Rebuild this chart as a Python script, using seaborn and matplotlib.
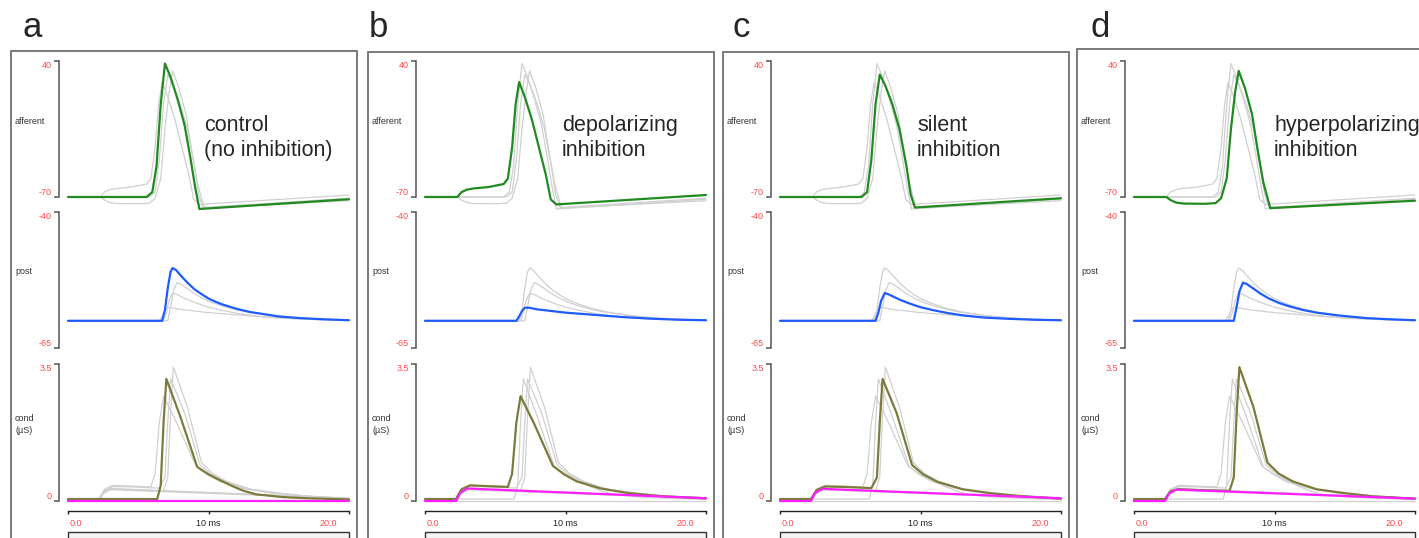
import pandas as pd
import matplotlib.pyplot as plt
import matplotlib.patches as mpatches
import seaborn as sns

# --- data (time in ms) ---
conditions = ['control', 'depolarizing', 'silent', 'hyperpolarizing']
panel_letters = ['a', 'b', 'c', 'd']
panel_notes = [('control', '(no inhibition)'), ('depolarizing', 'inhibition'),
               ('silent', 'inhibition'), ('hyperpolarizing', 'inhibition')]

# afferent membrane potential (mV)
aff_ctrl_t = [0, 5.6, 6.0, 6.3, 6.6, 6.9, 7.3, 7.8, 8.3, 8.7, 9.05, 9.35, 20]
aff_ctrl_v = [-70, -70, -66, -45, 5, 38, 27, 9, -12, -37.6, -62, -79.7, -71.8]
aff_depol_t = [0, 2.3, 2.6, 3.0, 3.5, 4.5, 5.6, 5.9, 6.2, 6.45, 6.7, 7.1, 7.6, 8.2, 8.6, 8.95, 9.35, 20]
aff_depol_v = [-70, -70, -66, -64, -63, -62, -59.5, -55, -30, 5, 23, 11, -7, -34, -52, -72, -76, -68.4]
aff_sil_t = [0, 5.8, 6.2, 6.5, 6.8, 7.1, 7.5, 8.0, 8.5, 9.0, 9.3, 9.6, 20]
aff_sil_v = [-70, -70, -66, -40, 5, 29, 20, 5, -15, -45, -68, -78.5, -71]
aff_hyp_t = [0, 2.3, 2.6, 3.0, 3.5, 5.0, 5.8, 6.2, 6.6, 6.9, 7.2, 7.45, 7.9, 8.4, 8.8, 9.2, 9.7, 20]
aff_hyp_v = [-70, -70, -72.5, -74.5, -75.3, -75.5, -75, -71, -55, -15, 15, 32, 18, -3, -32, -58, -79, -73]

# postsynaptic potential (mV)
post_ctrl_t = [0, 6.7, 6.9, 7.1, 7.3, 7.45, 7.7, 8.0, 8.5, 9.0, 9.5, 10, 10.5, 11, 12, 13, 14, 15, 16.5, 18, 20]
post_ctrl_v = [-60, -60, -58, -54, -51, -50.3, -50.7, -51.6, -53.0, -54.2, -55.1, -55.9, -56.5, -57.0,
               -57.8, -58.4, -58.8, -59.2, -59.5, -59.7, -59.9]
post_depol_t = [0, 6.5, 6.7, 6.9, 7.1, 7.4, 8.0, 9.0, 10, 12, 14, 16, 18, 20]
post_depol_v = [-60, -60, -59.2, -58.2, -57.6, -57.6, -57.9, -58.2, -58.5, -58.9, -59.3, -59.6, -59.8, -59.9]
post_sil_t = [0, 6.8, 7.0, 7.2, 7.45, 7.7, 8.1, 8.6, 9.2, 10, 11, 12, 13, 14.5, 16, 18, 20]
post_sil_v = [-60, -60, -58.5, -56.3, -54.9, -55.1, -55.6, -56.2, -56.8, -57.5, -58.1, -58.6, -59.0, -59.4,
              -59.6, -59.8, -59.9]
post_hyp_t = [0, 7.1, 7.3, 7.5, 7.75, 8.0, 8.4, 9.0, 9.6, 10.3, 11, 12, 13, 14.5, 16.5, 18, 20]
post_hyp_v = [-60, -60, -57.5, -54.6, -53.0, -53.2, -53.9, -55.0, -55.9, -56.7, -57.3, -58.0, -58.5, -59.0,
              -59.5, -59.7, -59.9]

# total conductance (uS)
cond_ctrl_t = [0, 6.35, 6.6, 6.8, 7.0, 8.0, 9.2, 10.0, 10.6, 11.7, 12.5, 13.4, 15.3, 17, 20]
cond_ctrl_v = [0.05, 0.05, 0.4, 2.0, 3.12, 2.15, 0.87, 0.68, 0.57, 0.38, 0.26, 0.17, 0.1, 0.07, 0.04]
cond_depol_t = [0, 2.2, 2.6, 3.2, 4.5, 5.9, 6.2, 6.5, 6.8, 7.8, 9.1, 9.9, 10.8, 12.5, 14.5, 17, 20]
cond_depol_v = [0.05, 0.05, 0.3, 0.4, 0.38, 0.36, 0.7, 2.0, 2.68, 1.95, 0.9, 0.68, 0.5, 0.32, 0.2, 0.12, 0.07]
cond_sil_t = [0, 2.2, 2.6, 3.2, 4.5, 6.5, 6.9, 7.1, 7.3, 8.3, 9.4, 10.2, 11.2, 13, 15, 17, 20]
cond_sil_v = [0.05, 0.05, 0.28, 0.37, 0.36, 0.33, 0.6, 2.0, 3.12, 2.25, 0.92, 0.68, 0.49, 0.3, 0.2, 0.13, 0.06]
cond_hyp_t = [0, 2.2, 2.6, 3.2, 4.5, 6.8, 7.1, 7.3, 7.5, 8.5, 9.5, 10.3, 11.3, 13, 15, 17, 20]
cond_hyp_v = [0.05, 0.05, 0.25, 0.3, 0.28, 0.26, 0.6, 2.2, 3.42, 2.4, 0.98, 0.7, 0.5, 0.3, 0.2, 0.12, 0.06]

# inhibitory conductance (uS)
inh_ctrl_t = [0, 20]
inh_ctrl_v = [0, 0]
inh_depol_t = [0, 2.2, 2.5, 3.0, 20]
inh_depol_v = [0, 0, 0.2, 0.32, 0.07]
inh_sil_t = [0, 2.2, 2.5, 3.0, 20]
inh_sil_v = [0, 0, 0.2, 0.31, 0.07]
inh_hyp_t = [0, 2.2, 2.5, 3.0, 20]
inh_hyp_v = [0, 0, 0.19, 0.29, 0.06]


def long_table(traces):
    frames = []
    for cond, kind, t, v in traces:
        frames.append(pd.DataFrame({'cond': cond, 'trace': cond + '_' + kind, 'kind': kind, 't': t, 'v': v}))
    return pd.concat(frames, ignore_index=True)


aff_df = long_table([('control', 'v', aff_ctrl_t, aff_ctrl_v), ('depolarizing', 'v', aff_depol_t, aff_depol_v),
                     ('silent', 'v', aff_sil_t, aff_sil_v), ('hyperpolarizing', 'v', aff_hyp_t, aff_hyp_v)])
post_df = long_table([('control', 'v', post_ctrl_t, post_ctrl_v), ('depolarizing', 'v', post_depol_t, post_depol_v),
                      ('silent', 'v', post_sil_t, post_sil_v), ('hyperpolarizing', 'v', post_hyp_t, post_hyp_v)])
cond_df = long_table([('control', 'total', cond_ctrl_t, cond_ctrl_v), ('depolarizing', 'total', cond_depol_t, cond_depol_v),
                      ('silent', 'total', cond_sil_t, cond_sil_v), ('hyperpolarizing', 'total', cond_hyp_t, cond_hyp_v),
                      ('control', 'inh', inh_ctrl_t, inh_ctrl_v), ('depolarizing', 'inh', inh_depol_t, inh_depol_v),
                      ('silent', 'inh', inh_sil_t, inh_sil_v), ('hyperpolarizing', 'inh', inh_hyp_t, inh_hyp_v)])

# --- styling / layout ---
sns.set_style('white')
plt.rcParams['font.family'] = ['Liberation Sans', 'DejaVu Sans']

W, H = 1419, 538
GREY = '#d0d0d0'
RED = '#ff4a4a'
row_specs = [
    # name, df, y-range px, limits, label, colors
    ('afferent', aff_df, (61, 197), (-70, 40), 'afferent', {'v': '#218a21'}),
    ('post', post_df, (212, 348), (-65, -40), 'post', {'v': '#1f5cff'}),
    ('cond', cond_df, (364, 501), (0, 3.5), 'cond\n(µS)', {'total': '#7c7b3d', 'inh': '#ff1eff'}),
]
box_left = [11, 368, 723, 1077]
box_top = [51, 52, 52, 49]
letter_x = [22, 369, 733, 1090]
note_x = [204, 562, 917, 1274]


def frect(x0, y0, x1, y1):
    return [x0 / W, 1 - y1 / H, (x1 - x0) / W, (y1 - y0) / H]


fig = plt.figure(figsize=(W / 100, H / 100), dpi=100)

for i, cond in enumerate(conditions):
    L = box_left[i]
    fig.patches.append(mpatches.Rectangle((L / W, 1 - 600 / H), 346 / W, (600 - box_top[i]) / H,
                                          transform=fig.transFigure, facecolor='white',
                                          edgecolor='#7a7a7a', linewidth=1.4, zorder=-2))
    fig.patches.append(mpatches.Rectangle(((L + 57) / W, 1 - 560 / H), 281 / W, (560 - 532) / H,
                                          transform=fig.transFigure, facecolor='#f4f4f4',
                                          edgecolor='#333333', linewidth=1.0, zorder=-1))
    fig.text(letter_x[i] / W, 1 - 37 / H, panel_letters[i], fontsize=25, va='baseline', ha='left')
    fig.text(note_x[i] / W, 1 - 131 / H, panel_notes[i][0], fontsize=15.5, va='baseline', ha='left')
    fig.text(note_x[i] / W, 1 - 156 / H, panel_notes[i][1], fontsize=15.5, va='baseline', ha='left')

    for name, df, (ytop, ybot), (lo, hi), label, colors in row_specs:
        ax = fig.add_axes(frect(L + 57, ytop, L + 338, ybot))
        ax.patch.set_visible(False)
        others = df[df['cond'] != cond]
        sns.lineplot(data=others, x='t', y='v', units='trace', estimator=None, sort=False,
                     color=GREY, linewidth=0.9, ax=ax, clip_on=False, legend=False)
        own = df[df['cond'] == cond]
        for kind, col in colors.items():
            sns.lineplot(data=own[own['kind'] == kind], x='t', y='v', estimator=None, sort=False,
                         color=col, linewidth=1.6, ax=ax, clip_on=False, legend=False)
        ax.set_xlim(0, 20)
        ax.set_ylim(lo, hi)
        ax.set_xlabel('')
        ax.set_ylabel('')
        for s in ['top', 'right']:
            ax.spines[s].set_visible(False)
        ax.spines['left'].set_position(('outward', 6.5))
        ax.spines['left'].set_color('#555555')
        ax.spines['left'].set_linewidth(1.1)
        ax.set_yticks([lo, hi])
        ax.tick_params(axis='y', left=True, direction='out', length=3.5, width=1.1, color='#555555',
                       labelleft=False)
        ax.text(-16 / 281, hi, f'{hi:g}', transform=ax.get_yaxis_transform(), ha='right', va='top',
                fontsize=6.5, color=RED)
        ax.text(-16 / 281, lo, f'{lo:g}', transform=ax.get_yaxis_transform(), ha='right', va='bottom',
                fontsize=6.5, color=RED)
        fig.text((L + 4) / W, 1 - ((ytop + ybot) / 2 - 8) / H, label, fontsize=6.5, color='#333333',
                 ha='left', va='center', linespacing=1.4)
        if name == 'cond':
            ax.spines['bottom'].set_position(('outward', 7.2))
            ax.spines['bottom'].set_color('#222222')
            ax.spines['bottom'].set_linewidth(1.0)
            ax.set_xticks([0, 10, 20])
            ax.tick_params(axis='x', bottom=True, direction='out', length=2.5, width=1.0, color='#222222',
                           labelbottom=False)
            ax.text(0.15, -22 / 137, '0.0', transform=ax.get_xaxis_transform(), ha='left', va='center',
                    fontsize=6.5, color=RED)
            ax.text(10, -22 / 137, '10 ms', transform=ax.get_xaxis_transform(), ha='center', va='center',
                    fontsize=6.5, color='#222222')
            ax.text(19.15, -22 / 137, '20.0', transform=ax.get_xaxis_transform(), ha='right', va='center',
                    fontsize=6.5, color=RED)
        else:
            ax.spines['bottom'].set_visible(False)
            ax.set_xticks([])

fig.savefig('out.png', dpi=100)
